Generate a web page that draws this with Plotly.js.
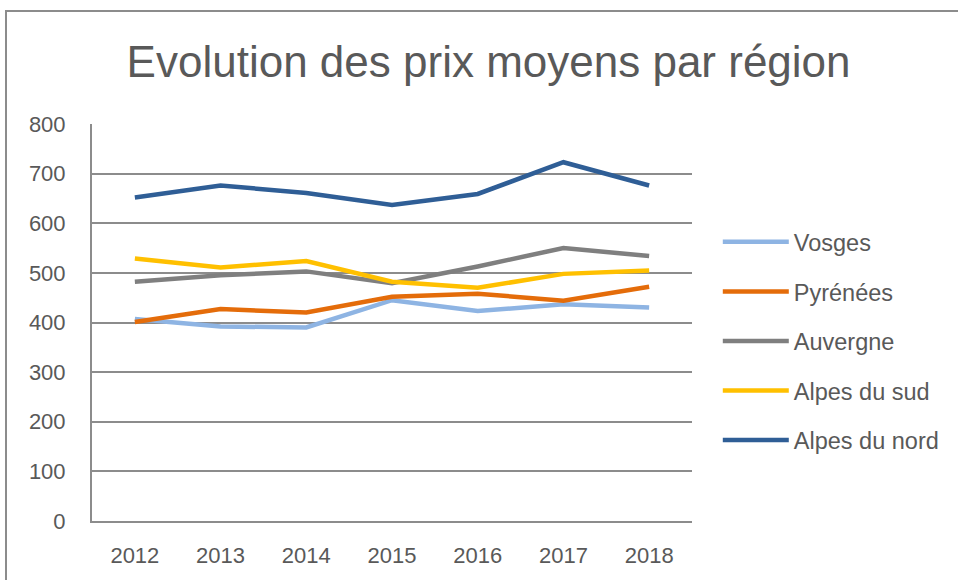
<!DOCTYPE html>
<html>
<head>
<meta charset="utf-8">
<script src="https://cdn.plot.ly/plotly-3.0.1.min.js"></script>
<style>
  html, body { margin: 0; padding: 0; background: #ffffff; }
  #chart { position: absolute; left: 0; top: 0; width: 958px; height: 580px; }
  #frame { position: absolute; left: 5px; top: 10px; width: 960px; height: 580px;
           border-top: 2px solid #8c8c8c; border-left: 2px solid #8c8c8c; pointer-events: none; }
</style>
</head>
<body>
<div id="chart"></div>
<div id="frame"></div>
<script>
const years = ["2012", "2013", "2014", "2015", "2016", "2017", "2018"];
const seriesNames = ["Vosges", "Pyrénées", "Auvergne", "Alpes du sud", "Alpes du nord"];
const vosges      = [407, 392, 390, 445, 423, 437, 430];
const pyrenees    = [401, 427, 420, 452, 458, 444, 472];
const auvergne    = [482, 495, 503, 479, 513, 550, 534];
const alpesSud    = [529, 511, 524, 482, 470, 498, 505];
const alpesNord   = [652, 676, 661, 637, 659, 723, 676];
const seriesValues = [vosges, pyrenees, auvergne, alpesSud, alpesNord];
const colors = ["#8EB4E3", "#E46C0A", "#7F7F7F", "#FFC000", "#2F5E96"];
const yTicks = [0, 100, 200, 300, 400, 500, 600, 700, 800];

const traces = seriesNames.map((name, i) => ({
  type: "scatter",
  mode: "lines",
  name: name,
  legendgroup: name,
  x: years,
  y: seriesValues[i],
  line: { color: colors[i], width: 4.5, shape: "linear" },
  hoverinfo: "x+y+name"
}));

const font = "Liberation Sans, Arial, sans-serif";

const layout = {
  width: 958,
  height: 580,
  margin: { l: 92, r: 266, t: 124, b: 59, pad: 0 },
  paper_bgcolor: "rgba(0,0,0,0)",
  plot_bgcolor: "#ffffff",
  font: { family: font, color: "#595959", size: 22 },
  title: {
    text: "Evolution des prix moyens par région",
    font: { family: font, size: 44, color: "#595959" },
    xref: "container", x: 0.51, xanchor: "center",
    yref: "container", y: 1 - 62 / 580, yanchor: "middle"
  },
  xaxis: {
    type: "category",
    range: [-0.5, 6.5],
    showgrid: false,
    showline: true,
    linecolor: "#8c8c8c",
    linewidth: 2,
    ticks: "",
    ticklabelstandoff: 14,
    tickfont: { family: font, size: 22, color: "#595959" },
    zeroline: false,
    fixedrange: true
  },
  yaxis: {
    range: [0, 800],
    tickvals: yTicks,
    ticktext: yTicks.map(String),
    showgrid: true,
    gridcolor: "#8c8c8c",
    gridwidth: 2,
    showline: true,
    linecolor: "#8c8c8c",
    linewidth: 2,
    zeroline: false,
    ticks: "",
    ticklabelstandoff: 20,
    tickfont: { family: font, size: 22, color: "#595959" },
    fixedrange: true
  },
  showlegend: true,
  legend: {
    x: 1.043, xanchor: "left",
    y: 0.758, yanchor: "top",
    traceorder: "grouped",
    tracegroupgap: 16,
    itemwidth: 66,
    font: { family: font, size: 23.5, color: "#595959" },
    bgcolor: "rgba(0,0,0,0)"
  }
};

Plotly.newPlot("chart", traces, layout, { displayModeBar: false, staticPlot: true });
</script>
</body>
</html>
